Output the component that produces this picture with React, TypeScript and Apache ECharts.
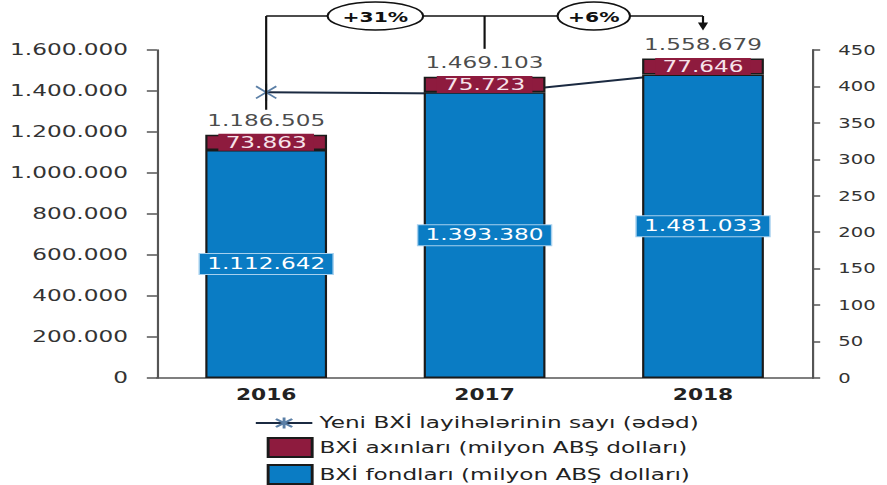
import React, { useEffect, useRef } from "react";
import * as echarts from "echarts";

const years = ["2016", "2017", "2018"];
const fundValues = [1112642, 1393380, 1481033];
const flowValues = [73863, 75723, 77646];
const projectCounts = [392, 390, 421];
const leftTicks = { min: 0, max: 1600000, interval: 200000 };
const rightTicks = { min: 0, max: 450, interval: 50 };
const growthLabels = ["+31%", "+6%"];

const seriesNames = {
  line: "Yeni BXİ layihələrinin sayı (ədəd)",
  flow: "BXİ axınları (milyon ABŞ dolları)",
  fund: "BXİ fondları (milyon ABŞ dolları)",
};

const totals = fundValues.map((v, i) => v + flowValues[i]);

const fmt = (v: number) => String(Math.round(v)).replace(/\B(?=(\d{3})+(?!\d))/g, ".");

const FULL_W = 887;
const FULL_H = 485;
const S = 1.449;
const INNER_W = Math.round(FULL_W / S);
const FONT = "DejaVu Sans";
const BLUE = "#0A7CC4";
const RED = "#8E1B3E";

export default function App() {
  const ref = useRef<HTMLDivElement>(null);

  useEffect(() => {
    if (!ref.current) return;
    const chart = echarts.init(ref.current, null, {
      renderer: "svg",
      width: INNER_W,
      height: FULL_H,
    });
    const option: any = {
      animation: false,
      backgroundColor: "#ffffff",
      textStyle: { fontFamily: FONT },
      grid: { left: 108.3, right: INNER_W - 560.4, top: 50, bottom: 107, containLabel: false },
      legend: [
        {
          data: [seriesNames.line],
          orient: "vertical",
          left: 175.5,
          top: 415,
          padding: 0,
          itemWidth: 39,
          itemHeight: 14,
          textStyle: { fontSize: 16, color: "#222", fontFamily: FONT },
          selectedMode: false,
        },
        {
          data: [
            { name: seriesNames.flow, icon: "rect" },
            { name: seriesNames.fund, icon: "rect" },
          ],
          orient: "vertical",
          left: 184,
          top: 437,
          padding: 0,
          itemWidth: 30.4,
          itemHeight: 19,
          itemGap: 6,
          textStyle: { fontSize: 16, color: "#222", fontFamily: FONT },
          selectedMode: false,
        },
      ],
      xAxis: {
        type: "category",
        data: years,
        axisTick: { show: false },
        axisLine: { show: true, lineStyle: { color: "#555", width: 1.5 } },
        axisLabel: { fontSize: 15, fontWeight: "bold", color: "#222", margin: 9, fontFamily: FONT },
      },
      yAxis: [
        {
          type: "value",
          min: leftTicks.min,
          max: leftTicks.max,
          interval: leftTicks.interval,
          splitLine: { show: false },
          axisLine: { show: true, lineStyle: { color: "#555", width: 1.5 } },
          axisTick: { show: true, length: 7, lineStyle: { color: "#555", width: 1.5 } },
          axisLabel: { fontSize: 16, color: "#333", margin: 20, formatter: (v: number) => fmt(v), fontFamily: FONT },
        },
        {
          type: "value",
          min: rightTicks.min,
          max: rightTicks.max,
          interval: rightTicks.interval,
          position: "right",
          splitLine: { show: false },
          axisLine: { show: true, lineStyle: { color: "#555", width: 1.5 } },
          axisTick: { show: true, length: 5.5, lineStyle: { color: "#555", width: 1.5 } },
          axisLabel: { fontSize: 13.5, color: "#333", margin: 18, fontFamily: FONT },
        },
      ],
      series: [
        {
          name: seriesNames.fund,
          type: "bar",
          stack: "bxi",
          barWidth: 84,
          data: fundValues,
          itemStyle: { color: BLUE, borderColor: "#1a1a1a", borderWidth: 1.5 },
          label: {
            show: true,
            position: "inside",
            formatter: (p: any) => fmt(p.value),
            color: "#ffffff",
            fontSize: 16,
            lineHeight: 16,
            fontFamily: FONT,
            backgroundColor: BLUE,
            borderColor: "#A6D0EE",
            borderWidth: 1,
            padding: [2, 5],
          },
          z: 2,
        },
        {
          name: seriesNames.flow,
          type: "bar",
          stack: "bxi",
          barWidth: 84,
          data: flowValues,
          itemStyle: { color: RED, borderColor: "#1a1a1a", borderWidth: 1.5 },
          label: {
            show: true,
            position: "inside",
            formatter: (p: any) => fmt(p.value),
            color: "#F7E3EA",
            fontSize: 16,
            lineHeight: 15,
            fontFamily: FONT,
            backgroundColor: RED,
            padding: [1, 5],
          },
          z: 2,
        },
        {
          name: "total",
          type: "scatter",
          data: totals,
          symbolSize: 0,
          silent: true,
          label: {
            show: true,
            position: "top",
            distance: 6,
            formatter: (p: any) => fmt(p.value),
            color: "#1a1a1a",
            fontSize: 16,
            fontFamily: FONT,
          },
          z: 4,
        },
        {
          name: seriesNames.line,
          type: "line",
          yAxisIndex: 1,
          data: projectCounts,
          symbol: "path://M0,0L10,10M10,0L0,10M5,-2L5,12",
          symbolSize: [14, 17],
          symbolKeepAspect: false,
          lineStyle: { color: "#1B2A41", width: 2 },
          itemStyle: { color: "#5B7FA6", borderColor: "#5B7FA6", borderWidth: 1.5 },
          z: 1,
        },
      ],
    };
    chart.setOption(option);

    const xs = years.map((y) => chart.convertToPixel({ xAxisIndex: 0 }, y) as number);
    const tops = totals.map((t) => (chart.convertToPixel({ yAxisIndex: 0 }, t) as number) - 28);
    const y0 = 16;
    const elements: any[] = [];
    const stroke = { stroke: "#111", lineWidth: 1.5, fill: "none" };
    elements.push({ type: "line", shape: { x1: xs[0], y1: y0, x2: xs[2], y2: y0 }, style: stroke, z: 10 });
    elements.push({ type: "line", shape: { x1: xs[0], y1: y0, x2: xs[0], y2: tops[0] + 3 }, style: stroke, z: 10 });
    elements.push({ type: "line", shape: { x1: xs[1], y1: y0, x2: xs[1], y2: tops[1] }, style: stroke, z: 10 });
    elements.push({ type: "line", shape: { x1: xs[2], y1: y0, x2: xs[2], y2: tops[2] - 7 }, style: stroke, z: 10 });
    elements.push({
      type: "polygon",
      shape: { points: [[xs[2] - 3.5, tops[2] - 8], [xs[2] + 3.5, tops[2] - 8], [xs[2], tops[2]]] },
      style: { fill: "#111" },
      z: 10,
    });
    const rxs = [33, 25];
    growthLabels.forEach((g, i) => {
      const cx = (xs[i] + xs[i + 1]) / 2;
      elements.push({
        type: "ellipse",
        shape: { cx, cy: y0, rx: rxs[i], ry: 14 },
        style: { fill: "#fff", stroke: "#111", lineWidth: 1.5 },
        z: 11,
      });
      elements.push({
        type: "text",
        x: cx,
        y: y0 + 1,
        style: {
          text: g,
          fontSize: 14,
          fontWeight: "bold",
          fontFamily: FONT,
          fill: "#111",
          align: "center",
          verticalAlign: "middle",
        },
        z: 12,
      });
    });
    chart.setOption({ graphic: { elements } });

    return () => chart.dispose();
  }, []);

  return (
    <div
      style={{
        position: "absolute",
        left: 0,
        top: 0,
        width: FULL_W,
        height: FULL_H,
        overflow: "hidden",
        background: "#fff",
      }}
    >
      <div
        ref={ref}
        style={{
          width: INNER_W,
          height: FULL_H,
          transform: `scaleX(${FULL_W / INNER_W})`,
          transformOrigin: "0 0",
        }}
      />
    </div>
  );
}
